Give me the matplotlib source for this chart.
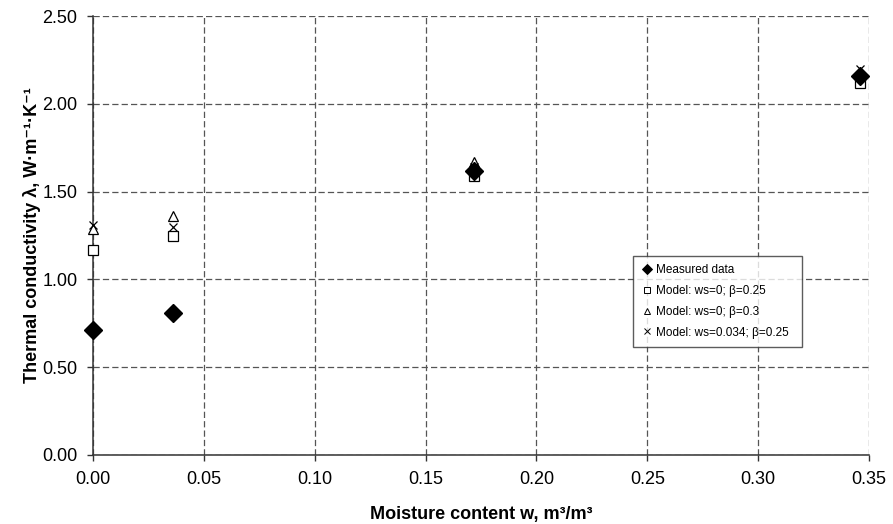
import matplotlib
matplotlib.use("Agg")
import matplotlib.pyplot as plt

plt.rcParams['font.family'] = ['Liberation Sans', 'DejaVu Sans']

moisture = [0.0, 0.036, 0.172, 0.346]
measured = [0.71, 0.81, 1.62, 2.16]
model_ws0_b025 = [1.17, 1.25, 1.59, 2.12]
model_ws0_b03 = [1.29, 1.36, 1.67, 2.17]
model_ws034_b025 = [1.31, 1.30, 1.64, 2.20]

xticks = [0.00, 0.05, 0.10, 0.15, 0.20, 0.25, 0.30, 0.35]
yticks = [0.00, 0.50, 1.00, 1.50, 2.00, 2.50]

fig = plt.figure(figsize=(8.93, 5.24), dpi=100)
ax = fig.add_axes([0.1041, 0.132, 0.869, 0.837])

ax.plot(moisture, measured, linestyle='none', marker='D', color='black', markersize=9,
        label='Measured data', zorder=5, clip_on=False)
ax.plot(moisture, model_ws0_b025, linestyle='none', marker='s', markerfacecolor='white',
        markeredgecolor='black', markersize=6.5, markeredgewidth=0.9,
        label='Model: ws=0; β=0.25', zorder=4, clip_on=False)
ax.plot(moisture, model_ws0_b03, linestyle='none', marker='^', markerfacecolor='white',
        markeredgecolor='black', markersize=7.5, markeredgewidth=0.9,
        label='Model: ws=0; β=0.3', zorder=4, clip_on=False)
ax.plot(moisture, model_ws034_b025, linestyle='none', marker='x', color='black',
        markersize=6, markeredgewidth=0.9,
        label='Model: ws=0.034; β=0.25', zorder=4, clip_on=False)

ax.set_xlim(0, 0.35)
ax.set_ylim(0, 2.5)
ax.set_xticks(xticks)
ax.set_yticks(yticks)
ax.set_xticklabels([f"{v:.2f}" for v in xticks], fontsize=13)
ax.set_yticklabels([f"{v:.2f}" for v in yticks], fontsize=13)
ax.tick_params(direction='out', length=4.3, width=1, color='#333333', pad=7)

ax.grid(True, linestyle=(0, (5, 2.5)), color='#555555', linewidth=0.9)
ax.set_axisbelow(True)
for s in ['top', 'right']:
    ax.spines[s].set_visible(False)
for s in ['left', 'bottom']:
    ax.spines[s].set_color('#333333')
    ax.spines[s].set_linewidth(1.1)

ax.set_xlabel('Moisture content w, m³/m³', fontsize=13, fontweight='bold', labelpad=13)
ax.set_ylabel('Thermal conductivity λ, W·m⁻¹·K⁻¹', fontsize=13, fontweight='bold', labelpad=1)

leg = ax.legend(loc='lower left', bbox_to_anchor=(0.6955, 0.2463, 0.2178, 0.182), mode='expand',
                fontsize=8.5, frameon=True, fancybox=False, edgecolor='#333333',
                handletextpad=0.15, handlelength=1.1,
                borderpad=0.7, labelspacing=0.75, borderaxespad=0)
leg.get_frame().set_linewidth(1.0)
for h, ms in zip(leg.legend_handles, [5, 4.5, 5, 4.5]):
    h.set_markersize(ms)
    h.set_markeredgewidth(0.7)

fig.savefig('out.png', dpi=100)
